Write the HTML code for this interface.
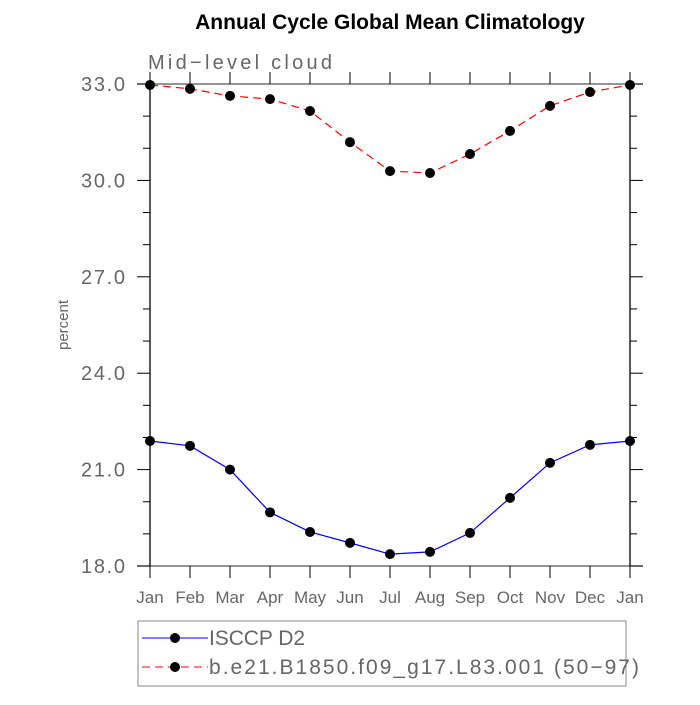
<!DOCTYPE html>
<html><head><meta charset="utf-8"><style>
body{margin:0;background:#fff}
svg text{font-family:"Liberation Sans",sans-serif}
</style></head><body>
<svg id="c" width="700" height="700" viewBox="0 0 700 700">
<text x="390" y="29" text-anchor="middle" font-size="21" font-weight="bold" fill="#000">Annual Cycle Global Mean Climatology</text>
<text x="148" y="69" font-size="20" fill="#666" textLength="184">Mid−level cloud</text>
<text transform="translate(68,325) rotate(-90)" text-anchor="middle" font-size="15" fill="#666">percent</text>
<g id="axes"></g>
<g id="series"></g>
<rect x="138" y="621" width="488" height="65" fill="none" stroke="#888" stroke-width="1"/>
<g>
<line x1="142" y1="638" x2="208" y2="638" stroke="#00f" stroke-width="1"/>
<circle cx="175" cy="638" r="5" fill="#000"/>
<text x="209" y="645" font-size="21" fill="#666" textLength="96">ISCCP D2</text>
</g>
<g>
<line x1="142" y1="667" x2="208" y2="667" stroke="#f00" stroke-width="1" stroke-dasharray="8,5"/>
<circle cx="175" cy="667" r="5" fill="#000"/>
<text x="209" y="674" font-size="21" fill="#666" textLength="430">b.e21.B1850.f09_g17.L83.001 (50−97)</text>
</g>
</svg>
<script>
const months=["Jan","Feb","Mar","Apr","May","Jun","Jul","Aug","Sep","Oct","Nov","Dec","Jan"];
const isccp=[21.89,21.74,21.0,19.67,19.06,18.72,18.37,18.44,19.03,20.12,21.21,21.77,21.89];
const model=[32.97,32.85,32.63,32.53,32.16,31.19,30.29,30.23,30.82,31.54,32.32,32.75,32.97];
const yTicks=[18.0,21.0,24.0,27.0,30.0,33.0];
const NS="http://www.w3.org/2000/svg";
const X0=150,X1=630,Y0=566,Y1=84,YMIN=18,YMAX=33;
function xs(i){return X0+(X1-X0)*i/(months.length-1);}
function ys(v){return Y0-(v-YMIN)/(YMAX-YMIN)*(Y0-Y1);}
function mk(t,a,p){const e=document.createElementNS(NS,t);for(const k in a)e.setAttribute(k,a[k]);p.appendChild(e);return e;}
const ax=document.getElementById('axes'),sr=document.getElementById('series');
const frame=mk('g',{},ax);


mk('line',{x1:137,y1:Y1,x2:643,y2:Y1,stroke:'#555','stroke-width':1.3},frame);
mk('line',{x1:137,y1:Y0,x2:643,y2:Y0,stroke:'#555','stroke-width':1.3},frame);
mk('line',{x1:X0,y1:Y1,x2:X0,y2:Y0,stroke:'#000','stroke-width':1.3},frame);
mk('line',{x1:X1,y1:Y1,x2:X1,y2:Y0,stroke:'#000','stroke-width':1.3},frame);
const xt=mk('g',{},ax);


months.forEach((m,i)=>{const x=xs(i);
mk('line',{x1:x,y1:Y0,x2:x,y2:Y0+12,stroke:'#000'},xt);
mk('line',{x1:x,y1:Y1,x2:x,y2:Y1-12,stroke:'#000'},xt);
const t=mk('text',{x:x,y:603,'text-anchor':'middle','font-size':17,fill:'#666'},xt);t.textContent=m;

});
const yt=mk('g',{},ax);


for(let v=YMIN;v<=YMAX+0.01;v+=1){const y=ys(v);const major=Math.abs((v-YMIN)%3)<0.01;const L=major?13:7;
mk('line',{x1:X0-L,y1:y,x2:X0,y2:y,stroke:'#000'},yt);
mk('line',{x1:X1,y1:y,x2:X1+L,y2:y,stroke:'#000'},yt);}
yTicks.forEach(v=>{const t=mk('text',{x:125,y:ys(v)+7,'text-anchor':'end','font-size':20,fill:'#666',textLength:44},yt);t.textContent=v.toFixed(1);

});
function draw(vals,color,dash,name){const g=mk('g',{},sr);


mk('polyline',{points:vals.map((v,i)=>xs(i)+','+ys(v)).join(' '),fill:'none',stroke:color,'stroke-width':1.2,'stroke-dasharray':dash},g);
vals.forEach((v,i)=>{const c=mk('circle',{cx:xs(i),cy:ys(v),r:5,fill:'#000'},g);

});}
draw(isccp,'#00f','none','series-isccp');
draw(model,'#f00','8,5','series-model');
</script>
</body></html>
